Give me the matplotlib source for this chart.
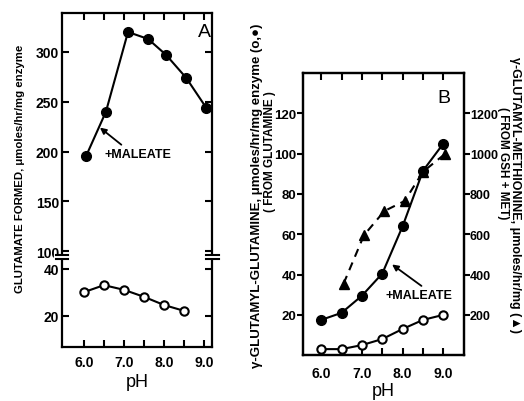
import matplotlib
matplotlib.use("Agg")
import matplotlib.pyplot as plt

plt.rcParams["font.family"] = ["Liberation Sans", "DejaVu Sans"]
plt.rcParams["font.weight"] = "bold"

# ── data, panel A ──
ph_a_mal = [6.05, 6.55, 7.1, 7.6, 8.05, 8.55, 9.05]
glu_a_mal = [195, 240, 320, 313, 297, 274, 244]
ph_a = [6.0, 6.5, 7.0, 7.5, 8.0, 8.5]
glu_a = [30, 33, 31, 28, 24.5, 22]

# ── data, panel B ──
ph_b = [6.0, 6.5, 7.0, 7.5, 8.0, 8.5, 9.0]
gg_b_mal = [17.5, 21, 29.5, 40.5, 64, 91.5, 105]
gg_b = [3, 3, 5, 8, 13, 17.5, 20]
ph_b_met = [6.55, 7.05, 7.55, 8.05, 8.5, 9.05]
gm_b = [355, 595, 715, 765, 910, 1000]

x_ticks = [6.0, 6.5, 7.0, 7.5, 8.0, 8.5, 9.0]
x_labels = ["6.0", "", "7.0", "", "8.0", "", "9.0"]
a_top_ticks = [100, 150, 200, 250, 300]
a_bot_ticks = [20, 40]
b_left_ticks = [20, 40, 60, 80, 100, 120]
b_right_ticks = [200, 400, 600, 800, 1000, 1200]

TS = 10
LW = 1.6
fig = plt.figure(figsize=(5.24, 4.02), dpi=100)

# ── panel A (broken axis) ──
AX, AW, BRK = 0.118, 0.287, 0.358
axA1 = fig.add_axes([AX, BRK, AW, 0.965 - BRK])
axA2 = fig.add_axes([AX, 0.134, AW, BRK - 0.134])
for ax in (axA1, axA2):
    ax.set_xlim(5.45, 9.2)
    for s in ax.spines.values():
        s.set_linewidth(LW)
    ax.tick_params(direction="in", length=5, width=1.5, labelsize=TS,
                   left=True, right=True, top=True, bottom=True, pad=2)
    ax.set_xticks(x_ticks)
axA1.set_ylim(94, 339)
axA2.set_ylim(6.5, 45)
axA1.spines["bottom"].set_visible(False)
axA2.spines["top"].set_visible(False)
axA1.tick_params(bottom=False, labelbottom=False)
axA2.tick_params(top=False)
axA2.tick_params(axis="x", pad=5.5)
axA1.set_yticks(a_top_ticks)
axA2.set_yticks(a_bot_ticks)
axA2.set_xticklabels(x_labels)

# break marks
for xf in (AX, AX + AW):
    fig.add_artist(plt.Line2D([xf - 0.012, xf + 0.012], [BRK, BRK],
                              color="white", lw=3, zorder=5))
    for dy in (0.006, -0.006):
        fig.add_artist(plt.Line2D([xf - 0.012, xf + 0.012], [BRK + dy, BRK + dy],
                                  color="black", lw=1.5, zorder=6))

axA1.plot(ph_a_mal, glu_a_mal, "-o", color="black", lw=1.5, ms=7)
axA2.plot(ph_a, glu_a, "-o", color="black", lw=1.5, ms=6,
          markerfacecolor="white", markeredgewidth=1.5)
axA1.text(9.0, 320, "A", fontsize=14, ha="center", va="center", fontweight="normal")
axA1.annotate("+MALEATE", xy=(6.4, 224), xytext=(6.52, 198), fontsize=9,
              va="center", arrowprops=dict(arrowstyle="-|>", color="black", lw=1.3,
                                           shrinkA=0, shrinkB=0, mutation_scale=9,
                                           relpos=(0.3, 1.0)))
axA2.set_xlabel("pH", fontsize=13, fontweight="normal", labelpad=3)
fig.text(0.038, 1 - 169 / 402, "GLUTAMATE FORMED, \u03bcmoles/hr/mg enzyme",
         rotation=90, ha="center", va="center", fontsize=8.2)

# ── panel B ──
axB = fig.add_axes([0.578, 0.114, 0.307, 0.702])
axB.set_xlim(5.55, 9.5)
axB.set_ylim(0, 140)
for s in axB.spines.values():
    s.set_linewidth(LW)
axB.set_xticks(x_ticks)
axB.set_xticklabels(x_labels)
axB.tick_params(axis="x", direction="in", top=True, length=5, width=1.5,
                labelsize=TS, pad=7.5)
axB.set_yticks(b_left_ticks)
axB.tick_params(axis="y", direction="out", length=4, width=1.5, labelsize=9.5, pad=0.5)
axB2 = axB.twinx()
axB2.set_ylim(0, 1400)
axB2.set_yticks(b_right_ticks)
axB2.tick_params(axis="y", direction="out", length=4, width=1.5, labelsize=9, pad=0.5)
for s in axB2.spines.values():
    s.set_linewidth(LW)

axB.plot(ph_b, gg_b_mal, "-o", color="black", lw=1.5, ms=7)
axB.plot(ph_b, gg_b, "-o", color="black", lw=1.5, ms=6,
         markerfacecolor="white", markeredgewidth=1.5)
axB2.plot(ph_b_met, gm_b, "--^", color="black", lw=1.5, ms=7, dashes=(4, 3))
axB.text(9.0, 128, "B", fontsize=14, ha="center", va="center", fontweight="normal")
axB.annotate("+MALEATE", xy=(7.74, 45), xytext=(7.57, 30), fontsize=9,
             va="center", arrowprops=dict(arrowstyle="-|>", color="black", lw=1.3,
                                          shrinkA=0, shrinkB=0, mutation_scale=9,
                                          relpos=(0.6, 1.0)))
axB.set_xlabel("pH", fontsize=13, fontweight="normal", labelpad=1.5)

fig.text(257 / 524, 1 - 196 / 402,
         "\u03b3-GLUTAMYL-GLUTAMINE, \u03bcmoles/hr/mg enzyme (o,\u25cf)",
         rotation=90, ha="center", va="center", fontsize=9.5)
fig.text(270 / 524, 1 - 152 / 402, "( FROM GLUTAMINE )",
         rotation=90, ha="center", va="center", fontsize=8.5)
fig.text(515 / 524, 1 - 195 / 402,
         "\u03b3-GLUTAMYL-METHIONINE, \u03bcmoles/hr/mg (\u25b2)",
         rotation=270, ha="center", va="center", fontsize=9)
fig.text(503 / 524, 1 - 163 / 402, "( FROM GSH + MET)",
         rotation=270, ha="center", va="center", fontsize=8.5)

fig.savefig("out.png", dpi=100, facecolor="white")
